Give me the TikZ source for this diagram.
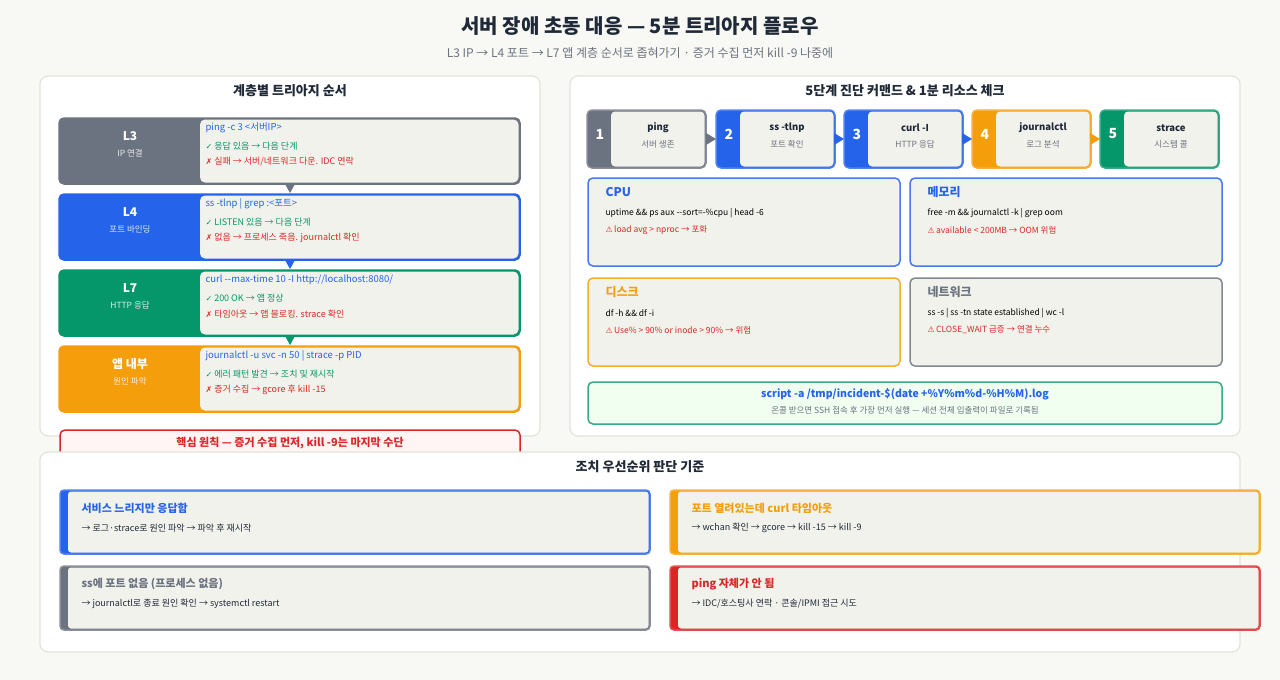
\documentclass[tikz,border=0pt]{standalone}
\usepackage{fontspec}
\setmainfont{Noto Sans CJK KR}[Ligatures=NoCommon]
\newfontfamily\symf{DejaVu Sans}
\definecolor{cgray}{HTML}{6B7280}
\definecolor{cblue}{HTML}{2563EB}
\definecolor{cgreen}{HTML}{059669}
\definecolor{corange}{HTML}{F59E0B}
\definecolor{cred}{HTML}{DC2626}
\definecolor{cbg}{HTML}{F8F8F4}
\definecolor{cbox}{HTML}{F2F2EC}
\definecolor{cline}{HTML}{E4E4DC}
\definecolor{ctext}{HTML}{1F2937}
\newcommand{\fs}[1]{\fontsize{#1}{#1}\selectfont}
\tikzset{
  panel/.style={fill=white,draw=cline,line width=1.2pt,rounded corners=8pt},
  ptitle/.style={font=\fs{13}\bfseries,text=ctext},
  cmdtxt/.style={anchor=west,font=\fs{9}},
}
\begin{document}
\begin{tikzpicture}[x=1pt,y=-1pt]
  \useasboundingbox[fill=cbg] (0,0) rectangle (1280,680);
  % header
  \node[font=\fs{20}\bfseries,text=ctext] (title) at (640,26) {서버 장애 초동 대응 — 5분 트리아지 플로우};
  \node[font=\fs{12},text=cgray] (subtitle) at (640,53) {L3 IP → L4 포트 → L7 앱 계층 순서로 좁혀가기 · 증거 수집 먼저 kill -9 나중에};
  % left panel
  \draw[panel] (40,76) rectangle (540,436);
  \node[ptitle] (ltitle) at (290,91) {계층별 트리아지 순서};
  \foreach \y/\c/\name/\sub/\cmd/\ok/\bad [count=\n] in {
      118/cgray/L3/IP 연결/{ping -c 3 <서버IP>}/{응답 있음 → 다음 단계}/{실패 → 서버/네트워크 다운. IDC 연락},
      194/cblue/L4/포트 바인딩/{ss -tlnp | grep :<포트>}/{LISTEN 있음 → 다음 단계}/{없음 → 프로세스 죽음. journalctl 확인},
      270/cgreen/L7/HTTP 응답/{curl {-}{-}max-time 10 -I http://localhost:8080/}/{200 OK → 앱 정상}/{타임아웃 → 앱 블로킹. strace 확인},
      346/corange/앱 내부/원인 파악/{journalctl -u svc -n 50 | strace -p PID}/{에러 패턴 발견 → 조치 및 재시작}/{증거 수집 → gcore 후 kill -15}} {
    \fill[\c,rounded corners=5pt] (59,\y) rectangle (520,\y+66);
    \fill[cbox,rounded corners=5pt] (200,\y+1.5) rectangle (518.5,\y+64.5);
    \draw[\c,line width=1.5pt,rounded corners=5pt] (59,\y) rectangle (520,\y+66);
    \node[font=\fs{12}\bfseries,text=white] (lay\n) at (130,\y+18) {\name};
    \node[font=\fs{8.5},text=white!85!\c] (laysub\n) at (130,\y+35) {\sub};
    \node[cmdtxt,text=cblue,font=\fs{9.5}] (cmd\n) at (202,\y+10) {\cmd};
    \node[cmdtxt,text=cgreen] (ok\n) at (202,\y+28) {{\symf\fs{8}✓} \ok};
    \node[cmdtxt,text=cred] (bad\n) at (202,\y+44) {{\symf\fs{8}✗} \bad};
  }
  \fill[cgray] (285,184) -- (295,184) -- (290,193) -- cycle;
  \fill[cblue] (285,260) -- (295,260) -- (290,269) -- cycle;
  \fill[cgreen] (285,336) -- (295,336) -- (290,345) -- cycle;
  \draw[cred,fill=red!4,line width=1.5pt,rounded corners=5pt] (60,430) rectangle (520,470);
  \node[font=\fs{11}\bfseries,text=cred] (rule) at (290,443) {핵심 원칙 — 증거 수집 먼저, kill -9는 마지막 수단};
  % right panel
  \draw[panel] (570,76) rectangle (1240,436);
  \node[ptitle] (rtitle) at (905,91) {5단계 진단 커맨드 \& 1분 리소스 체크};
  \foreach \x/\c/\cmd/\sub [count=\n] in {587/cgray/ping/서버 생존, 716/cblue/ss -tlnp/포트 확인,
      844/cblue/curl -I/HTTP 응답, 972/corange/journalctl/로그 분석, 1100/cgreen/strace/시스템 콜} {
    \fill[\c,rounded corners=5pt] (\x,110) rectangle (\x+119,168);
    \fill[cbox,rounded corners=4pt] (\x+24,111.5) rectangle (\x+117.5,166.5);
    \draw[\c!80,line width=1.5pt,rounded corners=5pt] (\x,110) rectangle (\x+119,168);
    \node[font=\fs{14}\bfseries,text=white] (num\n) at (\x+13,134) {\n};
    \node[font=\fs{9.5}\bfseries,text=ctext] (step\n) at (\x+71,128) {\cmd};
    \node[font=\fs{8.5},text=cgray] (stepsub\n) at (\x+71,144) {\sub};
  }
  \fill[cgray] (706,133) -- (716,139) -- (706,145) -- cycle;
  \fill[cblue] (834,133) -- (844,139) -- (834,145) -- cycle;
  \fill[cblue] (962,133) -- (972,139) -- (962,145) -- cycle;
  \fill[corange] (1090,133) -- (1100,139) -- (1090,145) -- cycle;
  \foreach \x/\y/\c/\name/\cmd/\warn [count=\n] in {
      588/178/cblue/CPU/{uptime \&\& ps aux {-}{-}sort=-\%cpu | head -6}/{load avg > nproc → 포화},
      910/178/cblue/메모리/{free -m \&\& journalctl -k | grep oom}/{available < 200MB → OOM 위험},
      588/278/corange/디스크/{df -h \&\& df -i}/{Use\% > 90\% or inode > 90\% → 위험},
      910/278/cgray/네트워크/{ss -s | ss -tn state established | wc -l}/{CLOSE\_WAIT 급증 → 연결 누수}} {
    \draw[\c!85,fill=cbox,line width=1.5pt,rounded corners=5pt] (\x,\y) rectangle (\x+312,\y+88);
    \node[anchor=west,font=\fs{12}\bfseries,text=\c] (res\n) at (\x+14,\y+14) {\name};
    \node[cmdtxt,font=\fs{8.5},text=black] (rescmd\n) at (\x+14,\y+35) {\cmd};
    \node[cmdtxt,font=\fs{8.5},text=cred] (reswarn\n) at (\x+14,\y+52) {{\symf\fs{8}⚠}\,\warn};
  }
  \draw[cgreen!80,fill=green!6,line width=1.5pt,rounded corners=5pt] (588,382) rectangle (1222,424);
  \node[font=\fs{10.5}\bfseries,text=cblue] (script) at (905,394) {script -a /tmp/incident-\$(date +\%Y\%m\%d-\%H\%M).log};
  \node[font=\fs{8.5},text=cgray] (scriptsub) at (905,410) {온콜 받으면 SSH 접속 후 가장 먼저 실행 — 세션 전체 입출력이 파일로 기록됨};
  % bottom panel
  \draw[panel] (40,452) rectangle (1240,652);
  \node[ptitle] (btitle) at (640,467) {조치 우선순위 판단 기준};
  \foreach \x/\y/\c/\name/\act [count=\n] in {
      60/490/cblue/서비스 느리지만 응답함/{→ 로그·strace로 원인 파악 → 파악 후 재시작},
      670/490/corange/포트 열려있는데 curl 타임아웃/{→ wchan 확인 → gcore → kill -15 → kill -9},
      60/566/cgray/ss에 포트 없음 (프로세스 없음)/{→ journalctl로 종료 원인 확인 → systemctl restart},
      670/566/cred/ping 자체가 안 됨/{→ IDC/호스팅사 연락 · 콘솔/IPMI 접근 시도}} {
    \fill[\c,rounded corners=4pt] (\x,\y) rectangle (\x+590,\y+64);
    \fill[cbox,rounded corners=3pt] (\x+8,\y+1.5) rectangle (\x+588.5,\y+62.5);
    \draw[\c!80,line width=1.5pt,rounded corners=4pt] (\x,\y) rectangle (\x+590,\y+64);
    \node[anchor=west,font=\fs{11}\bfseries,text=\c] (act\n) at (\x+18,\y+18) {\name};
    \node[cmdtxt,text=ctext] (actsub\n) at (\x+18,\y+38) {\act};
  }
\end{tikzpicture}
\end{document}
